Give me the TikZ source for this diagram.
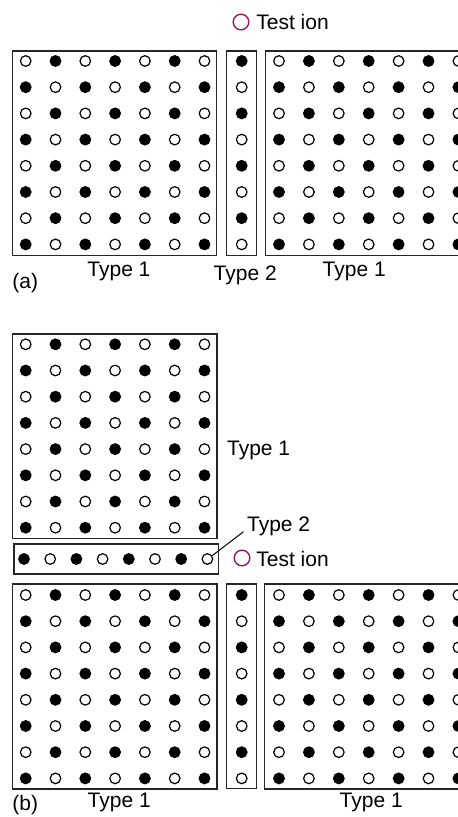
\documentclass[tikz,border=0pt]{standalone}
\usepackage{fontspec}
\setmainfont{Liberation Sans}
\usetikzlibrary{positioning}
\definecolor{testion}{RGB}{160,20,95}

\begin{document}
\begin{tikzpicture}[x=0.5pt, y=-0.5pt, every node/.style={inner sep=0pt},
  ion/.style={circle, draw=black, line width=0.6pt, minimum size=5.3pt},
  box/.style={draw=black!85, line width=0.7pt},
  lbl/.style={anchor=base west, font=\fontsize{10.5}{12}\selectfont},
  probe/.style={circle, draw=testion, line width=0.7pt, minimum size=7.8pt}]
\useasboundingbox (0,0) rectangle (458,817);
\clip (0,0) rectangle (458,817);
% ion lattices: name/x/y/dx/last col/last row/parity
\foreach \blk/\xo/\yo/\dx/\nc/\nr/\pa in {aL/25.7/61/29.8/6/7/0, aM/241.7/61/0/0/7/1,
    aR/279/61/29.9/6/7/0, bT/25.7/344.3/29.8/6/7/0, bS/24/559/26.2/7/0/1,
    bL/25.7/595/29.8/6/7/0, bM/241.7/595/0/0/7/1, bR/279/595/29.9/6/7/0}
  \foreach \row in {0,...,\nr}
    \foreach \col in {0,...,\nc}{
      \pgfmathtruncatemacro\k{mod(\row+\col+\pa,2)}
      \ifnum\k=0 \def\fc{white}\else\def\fc{black}\fi
      \node[ion, fill=\fc] (\blk\row\col) at (\xo+\col*\dx, \yo+\row*26.2) {};
    }
% (a)
\draw[box] (12.3,51) rectangle (216.7,255.3);
\draw[box] (226.3,51) rectangle (256.3,255.3);
\draw[box] (265.7,51) rectangle (470,255.3);
\node[probe] (ionA) at (241,22) {};
\node[lbl] (ionAtxt) at (256,29.3) {Test ion};
\node[lbl] (t1aL) at (87,276.7) {Type 1};
\node[lbl] (t2a) at (213.3,280.7) {Type 2};
\node[lbl] (t1aR) at (322.3,276.7) {Type 1};
\node[lbl] (capA) at (12,289) {(a)};
% (b)
\draw[box] (12.3,334) rectangle (217,538.3);
\draw[box] (14,544) rectangle (218.3,574);
\draw[box] (12.3,584) rectangle (217,789);
\draw[box] (226.3,584) rectangle (256.3,788.5);
\draw[box] (264.3,584) rectangle (470,789);
\node[lbl] (t1bT) at (226.7,455) {Type 1};
\node[lbl] (t2b) at (246.7,531.7) {Type 2};
\draw[line width=0.5pt] (bS07.35) -- ([xshift=-1.6pt]t2b.base west);
\node[probe] (ionB) at (242,558) {};
\node[lbl] (ionBtxt) at (256,566.7) {Test ion};
\node[lbl] (t1bL) at (87.3,807.7) {Type 1};
\node[lbl] (t1bR) at (339.3,807.7) {Type 1};
\node[lbl] (capB) at (12,810) {(b)};
\end{tikzpicture}
\end{document}
